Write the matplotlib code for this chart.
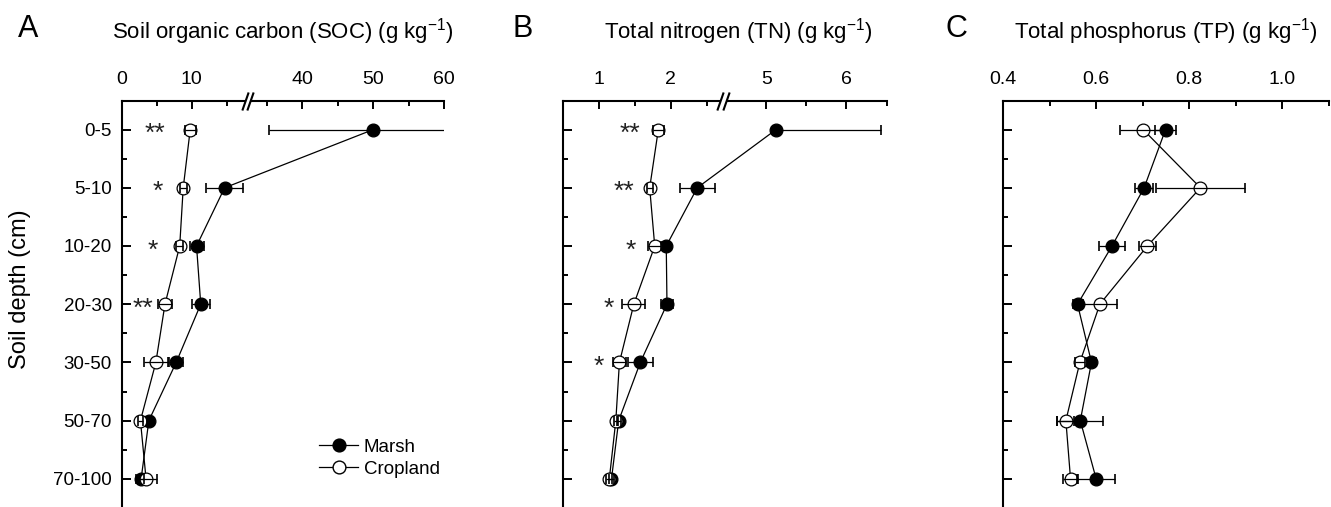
import numpy as np
import matplotlib
matplotlib.use("Agg")
import matplotlib.pyplot as plt
from matplotlib.lines import Line2D

plt.rcParams["font.family"] = ["Liberation Sans", "DejaVu Sans"]
plt.rcParams["mathtext.fontset"] = "custom"
plt.rcParams["mathtext.rm"] = "Liberation Sans"
plt.rcParams["mathtext.it"] = "Liberation Sans:italic"

# ---------------- data ----------------
depths = ["0-5", "5-10", "10-20", "20-30", "30-50", "50-70", "70-100"]

soc_marsh = [50.0, 14.7, 10.7, 11.3, 7.8, 3.9, 2.8]
soc_marsh_err = [14.7, 2.6, 1.0, 1.3, 1.0, 0.3, 0.4]
soc_crop = [9.8, 8.8, 8.3, 6.2, 4.9, 2.7, 3.5]
soc_crop_err = [0.8, 0.5, 0.5, 1.0, 1.7, 0.4, 1.5]
soc_sig = ["**", "*", "*", "**"]
soc_sig_x = [4.8, 5.1, 4.4, 3.1]

tn_marsh = [5.12, 2.37, 1.94, 1.95, 1.58, 1.28, 1.18]
tn_marsh_err_lo = [0.0, 0.24, 0.05, 0.085, 0.17, 0.03, 0.03]
tn_marsh_err_hi = [1.31, 0.24, 0.05, 0.085, 0.17, 0.03, 0.03]
tn_crop = [1.83, 1.71, 1.78, 1.49, 1.29, 1.24, 1.15]
tn_crop_err = [0.08, 0.04, 0.09, 0.16, 0.09, 0.03, 0.04]
tn_sig = ["**", "**", "*", "*", "*"]
tn_sig_x = [1.43, 1.35, 1.45, 1.14, 1.0]

tp_marsh = [0.749, 0.703, 0.634, 0.560, 0.590, 0.566, 0.600]
tp_marsh_err = [0.022, 0.020, 0.028, 0.010, 0.010, 0.049, 0.041]
tp_crop = [0.701, 0.824, 0.710, 0.608, 0.565, 0.535, 0.545]
tp_crop_err = [0.050, 0.095, 0.018, 0.036, 0.010, 0.018, 0.016]

soc_major = [0, 10, 40, 50, 60]
soc_minor = [5, 15, 35, 45, 55]
tn_major = [1, 2, 5, 6]
tn_minor = [1.5, 2.5, 5.5, 6.5]
tp_major = [0.4, 0.6, 0.8, 1.0]
tp_minor = [0.5, 0.7, 0.9, 1.1]


def broken_scale(x0, b1, b2, s1, s2, gap):
    y1 = (b1 - x0) * s1
    y2 = y1 + gap

    def fwd(x):
        x = np.asarray(x, dtype=float)
        return np.where(x <= b1, (x - x0) * s1,
                        np.where(x >= b2, y2 + (x - b2) * s2,
                                 y1 + (x - b1) / (b2 - b1) * gap))

    def inv(y):
        y = np.asarray(y, dtype=float)
        return np.where(y <= y1, x0 + y / s1,
                        np.where(y >= y2, b2 + (y - y2) / s2,
                                 b1 + (y - y1) / gap * (b2 - b1)))
    return fwd, inv


W, H = 1331, 507
fig = plt.figure(figsize=(W / 100, H / 100), dpi=100)

top_px = 100.5
ax_h_px = 407.4
panels_px = [(121.5, 322.5), (562.5, 324.0), (1003.0, 326.0)]
axes = []
for left, width in panels_px:
    ax = fig.add_axes([left / W, (H - top_px - ax_h_px) / H, width / W, ax_h_px / H])
    axes.append(ax)

ypos = np.arange(len(depths))
mk = 9.2
lw = 0.9


def draw_panel(ax, marsh, m_lo, m_hi, crop, c_err):
    ax.plot(marsh, ypos, color="k", lw=lw, marker="o", ms=mk, mfc="k", mec="k",
            mew=0.9, zorder=2)
    ax.plot(crop, ypos, color="k", lw=lw, marker="o", ms=mk, mfc="white", mec="k",
            mew=0.9, zorder=2.1)
    ax.errorbar(marsh, ypos, xerr=[m_lo, m_hi], fmt="none", ecolor="k",
                elinewidth=0.9, capsize=3.6, capthick=1.2, zorder=3)
    ax.errorbar(crop, ypos, xerr=[c_err, c_err], fmt="none", ecolor="k",
                elinewidth=0.9, capsize=3.6, capthick=1.2, zorder=3)


def style_axes(ax, major, minor, xlim):
    ax.set_xlim(*xlim)
    ax.set_ylim(6.5, -0.5)
    ax.xaxis.tick_top()
    ax.set_xticks(major)
    ax.set_xticklabels([str(v) if not isinstance(v, float) else f"{v:.1f}" for v in major])
    ax.set_xticks(minor, minor=True)
    ax.set_yticks(ypos)
    ax.set_yticks(ypos + 0.5, minor=True)
    ax.tick_params(axis="x", which="both", direction="in", top=True, bottom=False,
                   labelsize=14, pad=9, width=1.4)
    ax.tick_params(axis="x", which="major", length=6)
    ax.tick_params(axis="x", which="minor", length=3.5)
    ax.tick_params(axis="y", which="both", direction="in", left=True, right=False,
                   labelsize=13.5, pad=7, width=1.4)
    ax.tick_params(axis="y", which="major", length=6.5)
    ax.tick_params(axis="y", which="minor", length=3.5)
    for s in ["right", "bottom"]:
        ax.spines[s].set_visible(False)
    for s in ["top", "left"]:
        ax.spines[s].set_linewidth(1.5)


def draw_break(ax, b1, b2):
    tr = ax.get_xaxis_transform()
    ax.plot([b1, b2], [1, 1], color="white", lw=3, transform=tr, clip_on=False,
            zorder=5, solid_capstyle="butt")
    ax.plot([b1, b2], [1, 1], ls="none", marker=[(-0.35, -1), (0.35, 1)], ms=13,
            mew=1.5, color="k", transform=tr, clip_on=False, zorder=6)


def add_sig(ax, labels, xs):
    for i, (lab, x) in enumerate(zip(labels, xs)):
        ax.annotate(lab, xy=(x, ypos[i]), xytext=(0, -8.3), textcoords="offset points",
                    ha="center", va="baseline", fontsize=19, color="#222222")


# Panel A
axA = axes[0]
fA, iA = broken_scale(0, 17.6, 32.6, 7.0, 7.07, 5)
axA.set_xscale("function", functions=(fA, iA))
draw_panel(axA, soc_marsh, soc_marsh_err, soc_marsh_err, soc_crop, soc_crop_err)
style_axes(axA, soc_major, soc_minor, (0, 60))
axA.set_yticklabels(depths)
draw_break(axA, 17.6, 32.6)
add_sig(axA, soc_sig, soc_sig_x)
handles = [
    Line2D([], [], color="k", lw=lw, marker="o", ms=mk, mfc="k", mec="k"),
    Line2D([], [], color="k", lw=lw, marker="o", ms=mk, mfc="white", mec="k"),
]
axA.legend(handles, ["Marsh", "Cropland"], loc="upper left",
           bbox_to_anchor=(0.612, 0.17), frameon=False, fontsize=13.5,
           handlelength=2.1, handletextpad=0.3, labelspacing=0.25, borderpad=0,
           borderaxespad=0)

# Panel B
axB = axes[1]
fB, iB = broken_scale(0.5, 2.68, 4.49, 72.0, 80.0, 6)
axB.set_xscale("function", functions=(fB, iB))
draw_panel(axB, tn_marsh, tn_marsh_err_lo, tn_marsh_err_hi, tn_crop, tn_crop_err)
style_axes(axB, tn_major, tn_minor, (0.5, 6.5))
axB.set_yticklabels([])
draw_break(axB, 2.68, 4.49)
add_sig(axB, tn_sig, tn_sig_x)

# Panel C
axC = axes[2]
draw_panel(axC, tp_marsh, tp_marsh_err, tp_marsh_err, tp_crop, tp_crop_err)
style_axes(axC, tp_major, tp_minor, (0.4, 1.1))
axC.set_yticklabels([])

# titles
title_fs = 16
titles = [
    (axA, 0.5, "Soil organic carbon (SOC) (g kg$^{-1}$)"),
    (axB, 0.543, "Total nitrogen (TN) (g kg$^{-1}$)"),
    (axC, 0.5, "Total phosphorus (TP) (g kg$^{-1}$)"),
]
for ax, xf, t in titles:
    ax.text(xf, 1 + (top_px - 32) / ax_h_px, t, transform=ax.transAxes,
            ha="center", va="center", fontsize=title_fs)

for letter, xpx in [("A", 28), ("B", 523), ("C", 956)]:
    fig.text(xpx / W, 1 - 37 / H, letter, ha="center", va="baseline", fontsize=22)

fig.text(20 / W, 1 - 289 / H, "Soil depth (cm)", rotation=90, ha="center",
         va="center", fontsize=17)

fig.savefig("out.png", dpi=100)
